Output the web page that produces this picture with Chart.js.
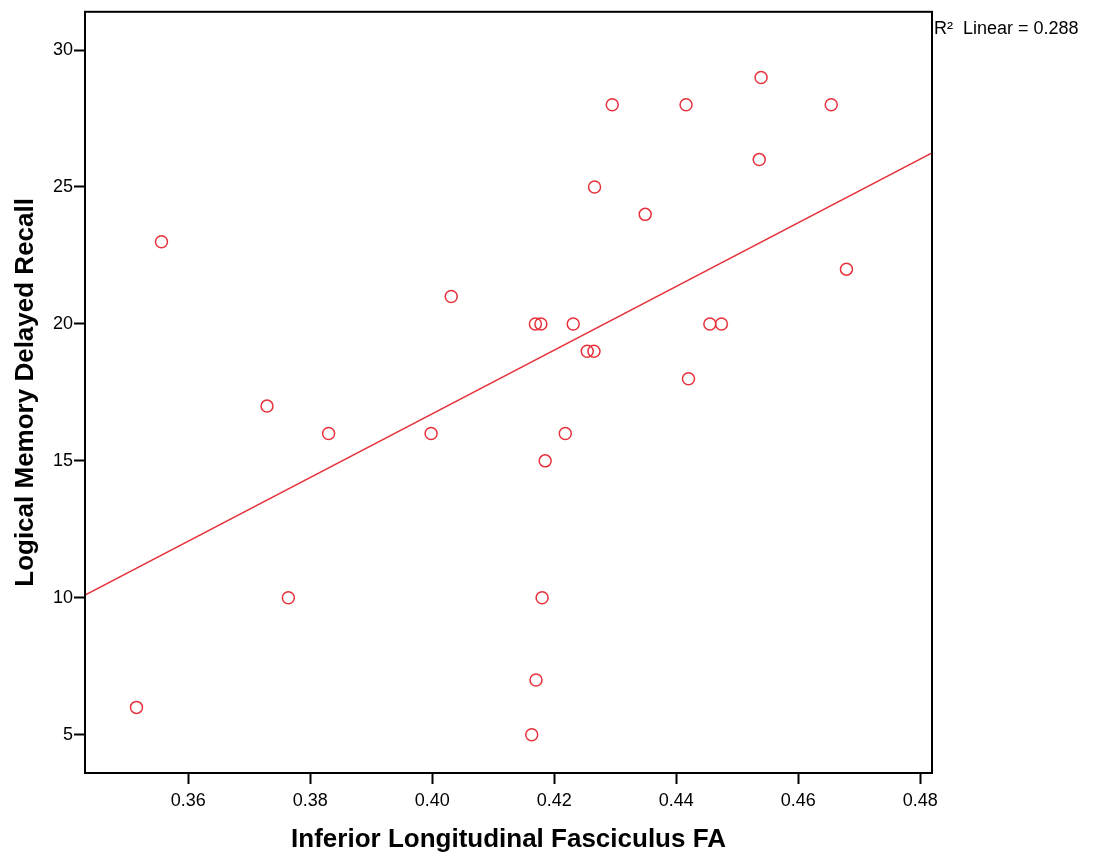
<!DOCTYPE html>
<html>
<head>
<meta charset="utf-8">
<script src="https://cdn.jsdelivr.net/npm/chart.js@4.4.0/dist/chart.umd.min.js"></script>
<style>
html, body { margin: 0; padding: 0; background: #fff; }
#wrap { width: 1096px; height: 858px; }
</style>
</head>
<body>
<div id="wrap"><canvas id="chart" width="1096" height="858"></canvas></div>
<script>
// Valores
const faValues = [0.3515, 0.3556, 0.3729, 0.3764, 0.3830, 0.3998, 0.4031, 0.4163, 0.4170, 0.4169,
                  0.4178, 0.4180, 0.4185, 0.4218, 0.4231, 0.4254, 0.4265, 0.4266, 0.4295, 0.4349,
                  0.4416, 0.4420, 0.4455, 0.4474, 0.4536, 0.4539, 0.4654, 0.4679];
const recallValues = [6, 23, 17, 10, 16, 16, 21, 5, 7, 20,
                      20, 10, 15, 16, 20, 19, 19, 25, 28, 24,
                      28, 18, 20, 20, 26, 29, 28, 22];
const xTicks = [0.36, 0.38, 0.40, 0.42, 0.44, 0.46, 0.48];
const yTicks = [5, 10, 15, 20, 25, 30];
const xRange = [0.34306, 0.48192];
const yRange = [3.604, 31.396];
const fitX = [0.34306, 0.48192];
const fitY = [10.1, 26.24];
const r2Label = 'R²  Linear = 0.288';

const red = '#e6323c';
const font = '"Liberation Sans", Arial, sans-serif';

const points = faValues.map((x, i) => ({ x: x, y: recallValues[i] }));
const fitLine = fitX.map((x, i) => ({ x: x, y: fitY[i] }));

// Marco del área y etiqueta R²
const frame = {
    id: 'frame',
    afterDraw(chart) {
        const { ctx, chartArea: a } = chart;
        ctx.save();
        ctx.strokeStyle = '#000';
        ctx.lineWidth = 2;
        ctx.strokeRect(a.left, a.top, a.right - a.left, a.bottom - a.top);
        ctx.fillStyle = '#000';
        ctx.font = '18px ' + font;
        ctx.textBaseline = 'alphabetic';
        ctx.fillText(r2Label, a.right + 2, a.top + 22);
        ctx.restore();
    }
};

new Chart(document.getElementById('chart'), {
    type: 'scatter',
    data: {
        datasets: [{
            data: points,
            pointStyle: 'circle',
            pointRadius: 6,
            pointBorderWidth: 1.5,
            borderColor: red,
            backgroundColor: 'rgba(0,0,0,0)',
            pointHoverRadius: 6
        }, {
            type: 'line',
            data: fitLine,
            borderColor: red,
            borderWidth: 1.5,
            pointRadius: 0,
            fill: false
        }]
    },
    options: {
        responsive: false,
        animation: false,
        events: [],
        layout: { padding: { top: 11, right: 164, left: 0, bottom: 0 } },
        plugins: { legend: { display: false }, tooltip: { enabled: false } },
        scales: {
            x: {
                type: 'linear',
                min: xRange[0],
                max: xRange[1],
                afterBuildTicks: s => { s.ticks = xTicks.map(v => ({ value: v })); },
                afterFit: s => { s.height = 85; },
                border: { display: false },
                grid: { drawOnChartArea: false, drawTicks: true, tickLength: 11, tickWidth: 2, tickColor: '#000' },
                ticks: {
                    color: '#000',
                    padding: 6,
                    font: { family: font, size: 18 },
                    callback: v => v.toFixed(2)
                },
                title: {
                    display: true,
                    text: 'Inferior Longitudinal Fasciculus FA',
                    color: '#000',
                    font: { family: font, size: 26, weight: 'bold' },
                    padding: { top: 0, bottom: 3 }
                }
            },
            y: {
                type: 'linear',
                min: yRange[0],
                max: yRange[1],
                afterBuildTicks: s => { s.ticks = yTicks.map(v => ({ value: v })); },
                afterFit: s => { s.width = 85; },
                border: { display: false },
                grid: { drawOnChartArea: false, drawTicks: true, tickLength: 11, tickWidth: 2, tickColor: '#000' },
                ticks: {
                    color: '#000',
                    padding: 1,
                    font: { family: font, size: 18 }
                },
                title: {
                    display: true,
                    text: 'Logical Memory Delayed Recall',
                    color: '#000',
                    font: { family: font, size: 26, weight: 'bold' },
                    padding: { top: 10, bottom: 0 }
                }
            }
        }
    },
    plugins: [frame]
});
</script>
</body>
</html>
